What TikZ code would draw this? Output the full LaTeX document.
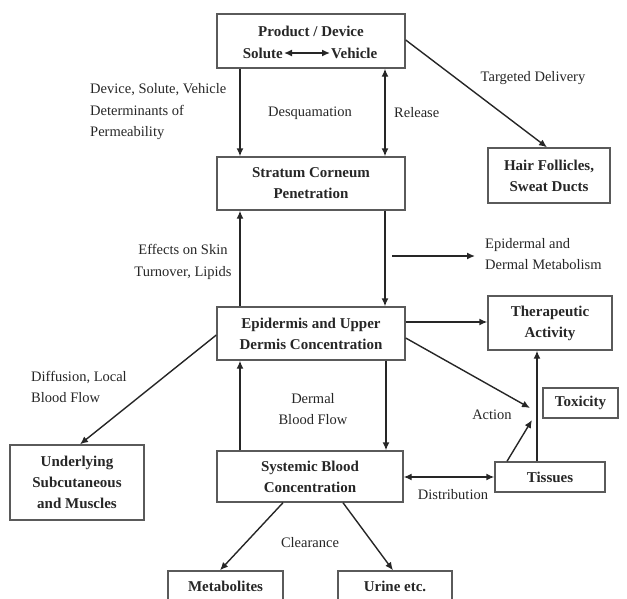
\documentclass[tikz,border=0pt]{standalone}
\usepackage{fontspec}
\setmainfont{Liberation Serif}
\usetikzlibrary{arrows.meta,calc}
\definecolor{ink}{HTML}{262626}
\definecolor{boxc}{HTML}{5A5A5A}
\tikzset{
  box/.style={draw=boxc, line width=1.4pt, inner sep=0pt, text=ink,
    font=\fontsize{15}{21}\selectfont\bfseries, align=center},
  lbl/.style={text=ink, inner sep=0pt, font=\fontsize{14.5}{21.5}\selectfont},
  tip/.style={},
  arr/.style={draw=ink, line width=1.4pt, -{Latex[length=8pt,width=7pt]}},
  darr/.style={draw=ink, line width=1.4pt, {Latex[length=8pt,width=7pt]}-{Latex[length=8pt,width=7pt]}},
}
\begin{document}
\begin{tikzpicture}[x=1pt,y=-1pt]
\useasboundingbox (0,0) rectangle (627,598);
\clip (0,0) rectangle (627,598);
% boxes
\node[box, minimum width=188pt, minimum height=54pt] (prod) at (311,41) {};
\node[text=ink, font=\fontsize{15}{21}\selectfont\bfseries, inner sep=0pt] (prodt) at (311,31) {Product / Device};
\node[text=ink, font=\fontsize{15}{21}\selectfont\bfseries, inner sep=1pt, anchor=east] (sol) at (284,53) {Solute};
\node[text=ink, font=\fontsize{15}{21}\selectfont\bfseries, inner sep=1pt, anchor=west] (veh) at (330,53) {Vehicle};
\node[box, minimum width=188pt, minimum height=53pt] (sc) at (311,183.5) {Stratum Corneum\\Penetration};
\node[box, minimum width=122pt, minimum height=55pt] (hair) at (549,175.5) {Hair Follicles,\\Sweat Ducts};
\node[box, minimum width=188pt, minimum height=53pt] (epi) at (311,333.5) {Epidermis and Upper\\Dermis Concentration};
\node[box, minimum width=124pt, minimum height=54pt] (ther) at (550,323) {Therapeutic\\Activity};
\node[box, minimum width=75pt, minimum height=30pt] (tox) at (580.5,403) {Toxicity};
\node[box, minimum width=110pt, minimum height=30pt] (tis) at (550,477) {Tissues};
\node[box, minimum width=186pt, minimum height=51pt] (sys) at (310,476.5) {Systemic Blood\\Concentration};
\node[box, minimum width=134pt, minimum height=75pt] (under) at (77,482.5) {Underlying\\Subcutaneous\\and Muscles};
\node[box, minimum width=115pt, minimum height=40pt] (meta) at (225.5,591) {};
\node[text=ink, font=\fontsize{15}{21}\selectfont\bfseries, inner sep=0pt] (metat) at (225.5,586) {Metabolites};
\node[box, minimum width=114pt, minimum height=40pt] (urine) at (395,591) {};
\node[text=ink, font=\fontsize{15}{21}\selectfont\bfseries, inner sep=0pt] (urinet) at (395,586) {Urine etc.};
% labels
\node[lbl, align=left, anchor=west] (ldev) at (90,112) {Device, Solute, Vehicle\\Determinants of\\Permeability};
\node[lbl] (ldesq) at (310,113) {Desquamation};
\node[lbl, anchor=west] (lrel) at (394,113) {Release};
\node[lbl] (ltarg) at (533,78) {Targeted Delivery};
\node[lbl, align=center] (leff) at (183,262) {Effects on Skin\\Turnover, Lipids};
\node[lbl, align=left, anchor=west] (lmet) at (485,254) {Epidermal and\\Dermal Metabolism};
\node[lbl, align=left, anchor=west] (ldiff) at (31,387) {Diffusion, Local\\Blood Flow};
\node[lbl, align=center] (lderm) at (313,409) {Dermal\\Blood Flow};
\node[lbl] (lact) at (492,415) {Action};
\node[lbl] (ldist) at (453,495) {Distribution};
\node[lbl] (lclear) at (310,543) {Clearance};
% free-end coordinates
\coordinate (ms) at (392,256);
\coordinate (me) at (475,256);
\coordinate (act) at (530,408);
\coordinate (act2) at (532,420);
% connectors
\draw[darr] (sol.east) -- (veh.west);
\draw[arr] (prod.south -| 240,0) -- (sc.north -| 240,0);
\draw[darr] (prod.south -| 385,0) -- (sc.north -| 385,0);
\draw[arr] (prod.east |- 0,40) -- (hair.north -| 547,0);
\draw[arr] (sc.south -| 385,0) -- (epi.north -| 385,0);
\draw[arr] (epi.north -| 240,0) -- (sc.south -| 240,0);
\draw[arr] (ms) -- (me);
\draw[arr] (epi.east |- 0,322) -- (ther.west |- 0,322);
\draw[arr] (epi.east |- 0,338) -- (act);
\draw[arr] (tis.north -| 507,0) -- (act2);
\draw[arr] (tis.north -| 537,0) -- (ther.south -| 537,0);
\draw[darr] (sys.east |- 0,477) -- (tis.west |- 0,477);
\draw[arr] (epi.south -| 386,0) -- (sys.north -| 386,0);
\draw[arr] (sys.north -| 240,0) -- (epi.south -| 240,0);
\draw[arr] (epi.west |- 0,335) -- (under.north -| 80,0);
\draw[arr] (sys.south -| 283,0) -- (meta.north -| 220,0);
\draw[arr] (sys.south -| 343,0) -- (urine.north -| 393,0);
\end{tikzpicture}
\end{document}
